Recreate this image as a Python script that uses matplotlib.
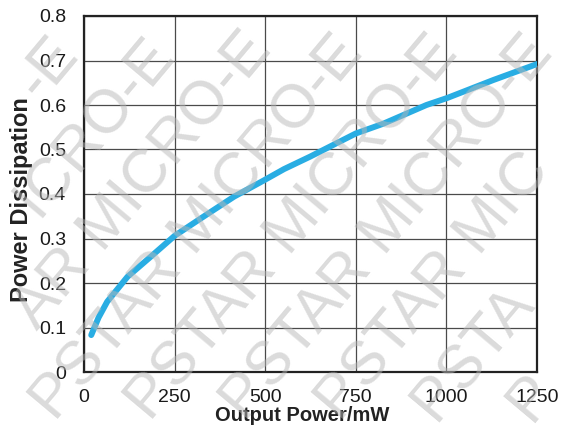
import math
import matplotlib
matplotlib.use("Agg")
import matplotlib.pyplot as plt

plt.rcParams["font.family"] = ["Liberation Sans", "DejaVu Sans"]

# curve
power_out = [20, 40, 64, 120, 184, 250, 322, 414, 495, 552, 624, 750, 826, 945, 1003, 1129, 1250]
power_diss = [0.083, 0.122, 0.158, 0.214, 0.259, 0.306, 0.345, 0.394, 0.430, 0.456, 0.484, 0.536, 0.558, 0.600, 0.616, 0.656, 0.692]

x_ticks = [0, 250, 500, 750, 1000, 1250]
y_ticks = [0, 0.1, 0.2, 0.3, 0.4, 0.5, 0.6, 0.7, 0.8]
y_labels = ["0", "0.1", "0.2", "0.3", "0.4", "0.5", "0.6", "0.7", "0.8"]

W, H = 574, 436
fig = plt.figure(figsize=(W / 100, H / 100), dpi=100)
ax = fig.add_axes([84 / W, 1 - 372 / H, (537 - 84) / W, (372 - 16) / H])

ax.plot(power_out, power_diss, color="#29ade3", linewidth=4.3, solid_capstyle="round", zorder=3)

ax.set_xlim(0, 1250)
ax.set_ylim(0, 0.8)
ax.set_xticks(x_ticks)
ax.set_yticks(y_ticks)
ax.set_yticklabels(y_labels)
ax.tick_params(length=0, labelsize=14, colors="#1a1a1a")
ax.tick_params(axis="x", pad=12.5)
ax.tick_params(axis="y", pad=13)
ax.grid(True, color="#4a4a4a", linewidth=0.9)
for s in ax.spines.values():
    s.set_linewidth(1.6)
    s.set_color("#222222")

ax.set_xlabel("Output Power/mW", fontsize=14.5, fontweight="bold", color="#222222")
ax.set_ylabel("Power Dissipation", fontsize=17, fontweight="bold", color="#222222")
ax.xaxis.set_label_coords(0.481, -0.095)
ax.yaxis.set_label_coords(-0.113, 0.483)

# diagonal watermark, rows trimmed so each piece stays inside the figure
wm = "CHIPSTAR MICRO-ELECTRONICS CHIPSTAR MICRO-ELECTRONICS"
ang = 50
ca, sa = math.cos(math.radians(ang)), math.sin(math.radians(ang))
wm_kw = dict(fontsize=44, color="#b8b8b8", alpha=0.5, rotation=ang, rotation_mode="anchor",
             ha="left", va="baseline", zorder=10)
r = fig.canvas.get_renderer()


def text_w(s):
    if not s:
        return 0.0
    t = fig.text(0, 0, s, fontsize=wm_kw["fontsize"])
    w = t.get_window_extent(r).width
    t.remove()
    return w


start0 = -text_w(wm[:2])
for xb in range(45 - 95 * 4, W, 95):
    i, j = 0, len(wm)
    while i < j:
        while i < j and wm[i] == " ":
            i += 1
        while j > i and wm[j - 1] == " ":
            j -= 1
        if i >= j:
            break
        d = start0 + text_w(wm[:i])
        px, py = xb + d * ca, d * sa
        t = fig.text(px / W, py / H, wm[i:j], **wm_kw)
        bb = t.get_window_extent(r)
        if bb.x0 < 1 or bb.y0 < 1:
            t.remove()
            i += 1
        elif bb.x1 > W - 1 or bb.y1 > H - 1:
            t.remove()
            j -= 1
        else:
            break

fig.savefig("out.png", dpi=100)
plt.close(fig)
